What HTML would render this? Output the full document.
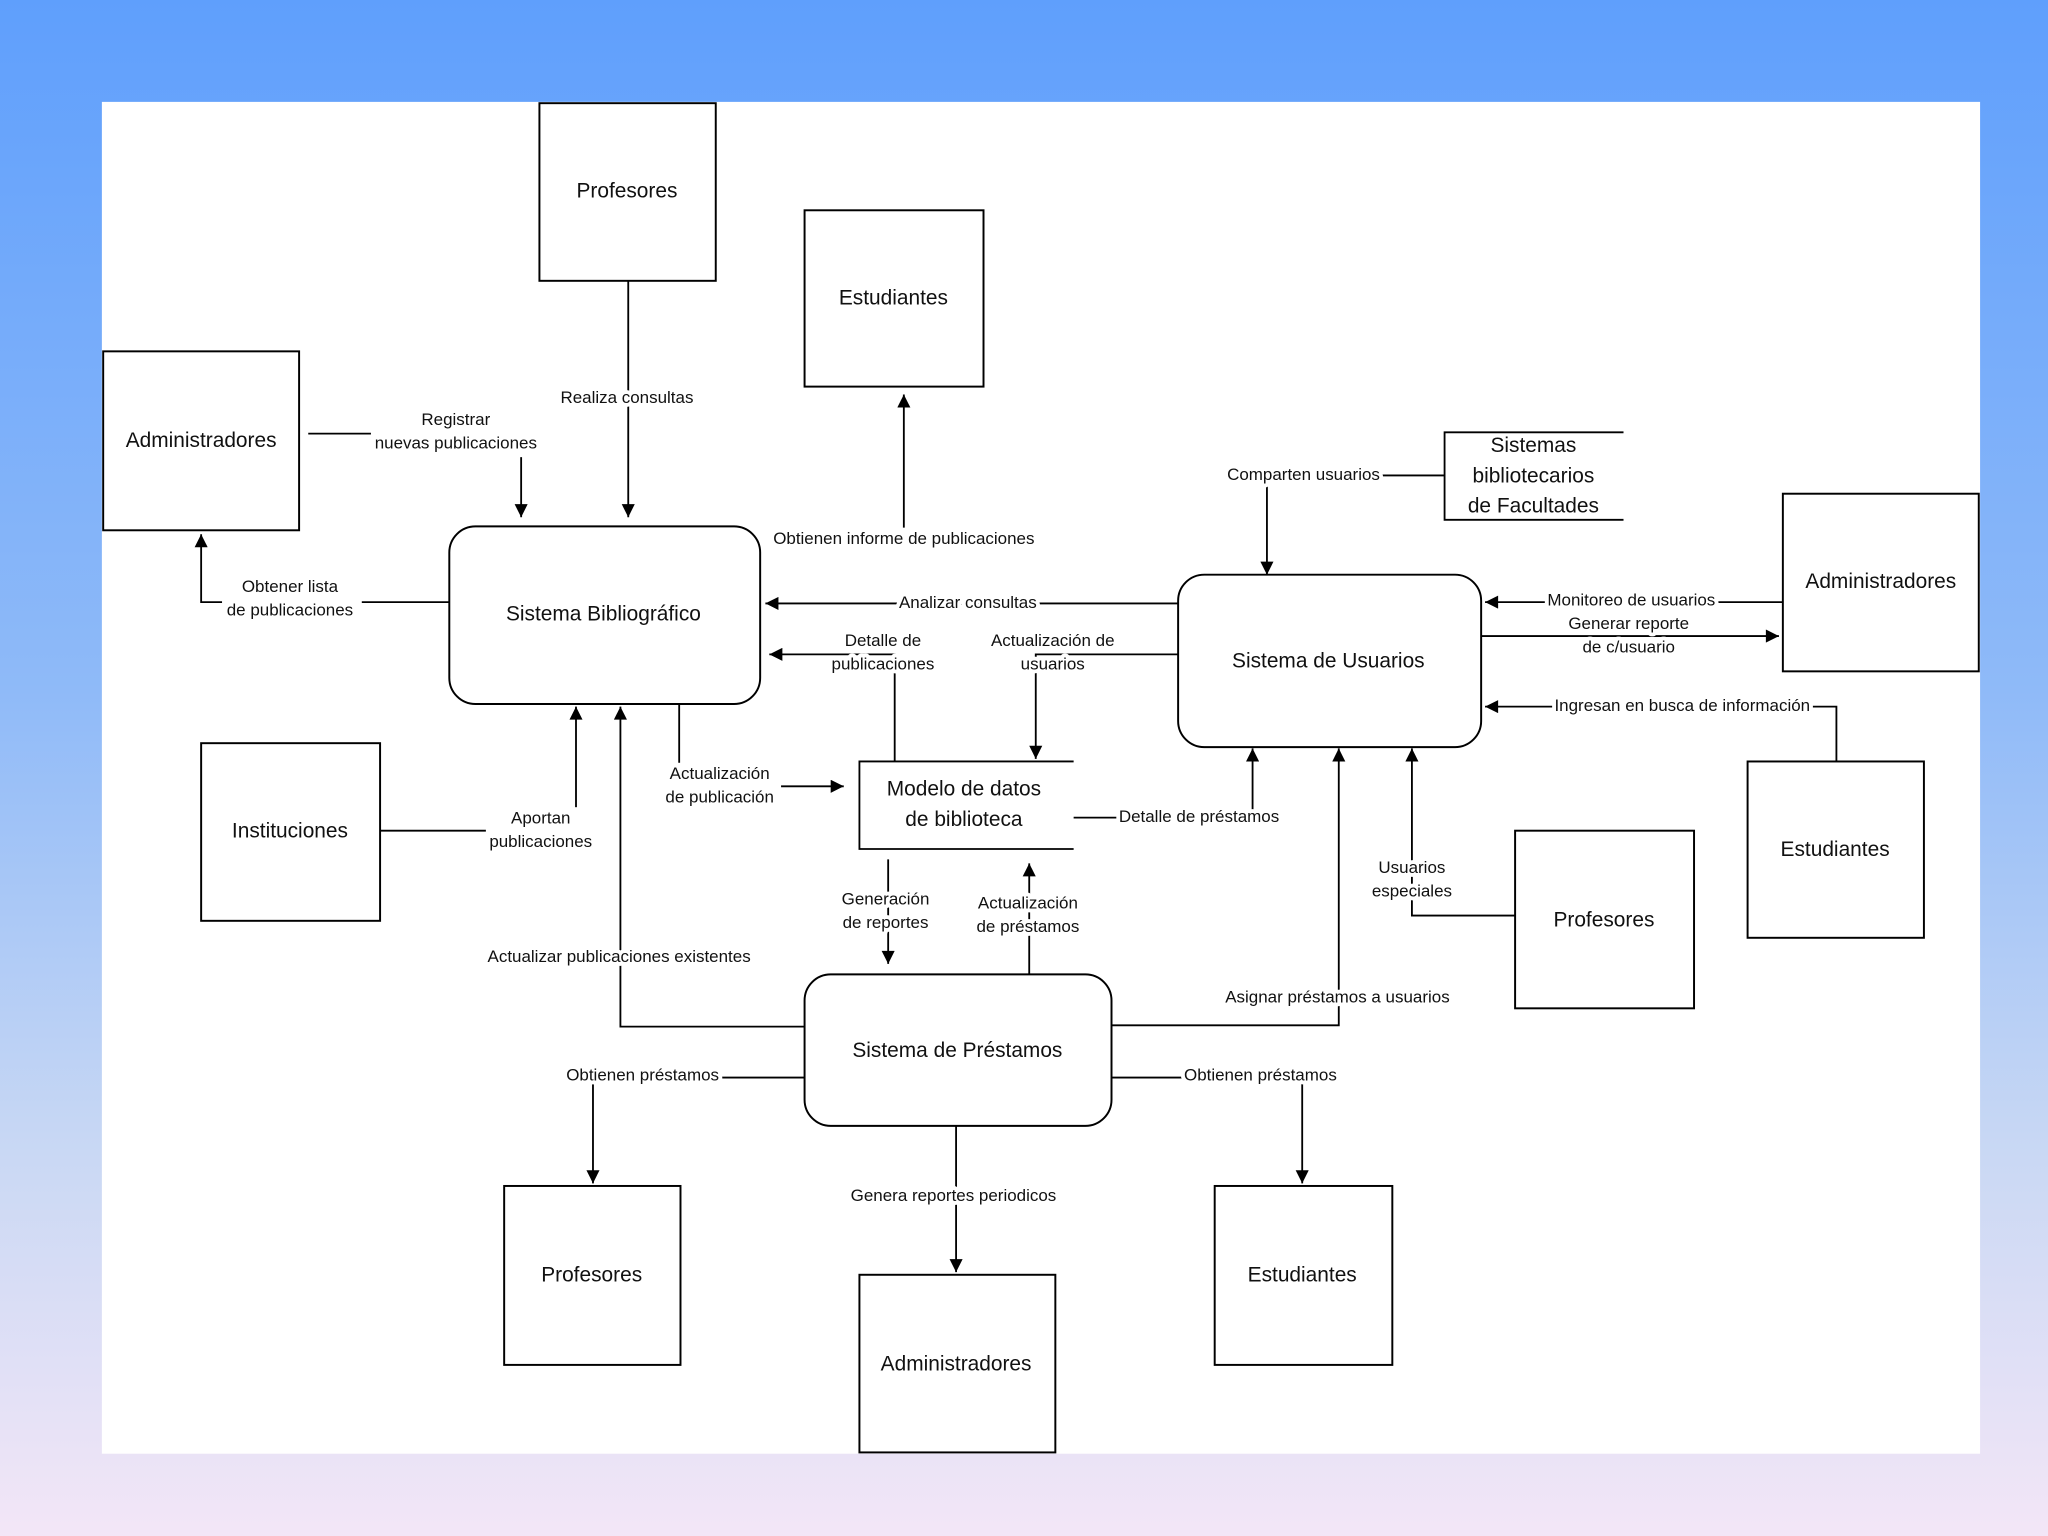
<!DOCTYPE html>
<html><head><meta charset="utf-8">
<style>
html,body{margin:0;padding:0;width:2048px;height:1536px;overflow:hidden;}
body{background:linear-gradient(to bottom,#5f9ffc 0%,#8fbaf8 45%,#c9d8f4 75%,#f3e6f7 100%);}
svg{display:block}
text{font-family:"Liberation Sans","DejaVu Sans",sans-serif;fill:#111;text-anchor:middle;dominant-baseline:middle}
.n{font-size:16px}
.l{font-size:13px;paint-order:stroke;stroke:#fff;stroke-width:6px;stroke-linejoin:round}
.b{fill:#fff;stroke:#000;stroke-width:1.5}
.c{fill:none;stroke:#000;stroke-width:1.4}
</style></head><body>
<svg width="2048" height="1536" viewBox="0 0 1568 1176" xmlns="http://www.w3.org/2000/svg">
<defs><marker id="a" viewBox="0 0 10 10" refX="10" refY="5" markerWidth="12" markerHeight="10" markerUnits="userSpaceOnUse" orient="auto"><path d="M0,0L10,5L0,10z" fill="#000"/></marker></defs>
<rect x="78" y="78" width="1438" height="1035" fill="#fff"/>

<g class="c">
<polyline points="236,332 284,332"/>
<polyline points="344,461 277,461"/>
<polyline points="520,539 520,584"/>
<polyline points="291,636 372,636"/>
</g>
<g class="c" marker-end="url(#a)">
<polyline points="481,215 481,396"/>
<polyline points="399,350 399,396"/>
<polyline points="170,461 154,461 154,409"/>
<polyline points="692,404 692,302"/>
<polyline points="902,462 586,462"/>
<polyline points="685,583 685,501 589,501"/>
<polyline points="902,501 793,501 793,581"/>
<polyline points="598,602 646,602"/>
<polyline points="441,618 441,541"/>
<polyline points="616,786 475,786 475,541"/>
<polyline points="1106,364 970,364 970,440"/>
<polyline points="1365,461 1137,461"/>
<polyline points="1134,487 1362,487"/>
<polyline points="1406,583 1406,541 1137,541"/>
<polyline points="822,626 959,626 959,573"/>
<polyline points="1160,701 1081,701 1081,573"/>
<polyline points="851,785 1025,785 1025,573"/>
<polyline points="680,658 680,738"/>
<polyline points="788,746 788,661"/>
<polyline points="616,825 454,825 454,906"/>
<polyline points="851,825 997,825 997,906"/>
<polyline points="732,862 732,974"/>
</g>

<rect class="b" x="413" y="79" width="135" height="136"/><text class="n" x="480" y="147">Profesores</text>
<rect class="b" x="616" y="161" width="137" height="135"/><text class="n" x="684" y="229">Estudiantes</text>
<rect class="b" x="79" y="269" width="150" height="137"/><text class="n" x="154" y="338">Administradores</text>
<rect class="b" x="344" y="403" width="238" height="136" rx="20"/><text class="n" x="462" y="471">Sistema Bibliográfico</text>
<g class="c"><polyline points="1243,331 1106,331 1106,398 1243,398"/></g>
<text class="n" x="1174" y="342">Sistemas</text><text class="n" x="1174" y="365">bibliotecarios</text><text class="n" x="1174" y="388">de Facultades</text>
<rect class="b" x="1365" y="378" width="150" height="136"/><text class="n" x="1440" y="446">Administradores</text>
<rect class="b" x="902" y="440" width="232" height="132" rx="20"/><text class="n" x="1017" y="507">Sistema de Usuarios</text>
<rect class="b" x="154" y="569" width="137" height="136"/><text class="n" x="222" y="637">Instituciones</text>
<g class="c"><polyline points="822,583 658,583 658,650 822,650"/></g>
<text class="n" x="738" y="605">Modelo de datos</text><text class="n" x="738" y="628">de biblioteca</text>
<rect class="b" x="1338" y="583" width="135" height="135"/><text class="n" x="1405" y="651">Estudiantes</text>
<rect class="b" x="1160" y="636" width="137" height="136"/><text class="n" x="1228" y="705">Profesores</text>
<rect class="b" x="616" y="746" width="235" height="116" rx="20"/><text class="n" x="733" y="805">Sistema de Préstamos</text>
<rect class="b" x="386" y="908" width="135" height="137"/><text class="n" x="453" y="977">Profesores</text>
<rect class="b" x="658" y="976" width="150" height="136"/><text class="n" x="732" y="1045">Administradores</text>
<rect class="b" x="930" y="908" width="136" height="137"/><text class="n" x="997" y="977">Estudiantes</text>

<g class="l">
<text x="480" y="305">Realiza consultas</text>
<text x="349" y="322">Registrar</text><text x="349" y="340">nuevas publicaciones</text>
<text x="222" y="450">Obtener lista</text><text x="222" y="468">de publicaciones</text>
<text x="692" y="413">Obtienen informe de publicaciones</text>
<text x="741" y="462">Analizar consultas</text>
<text x="676" y="491">Detalle de</text><text x="676" y="509">publicaciones</text>
<text x="806" y="491">Actualización de</text><text x="806" y="509">usuarios</text>
<text x="551" y="593">Actualización</text><text x="551" y="611">de publicación</text>
<text x="414" y="627">Aportan</text><text x="414" y="645">publicaciones</text>
<text x="474" y="733">Actualizar publicaciones existentes</text>
<text x="998" y="364">Comparten usuarios</text>
<text x="1249" y="460">Monitoreo de usuarios</text>
<text x="1247" y="478">Generar reporte</text><text x="1247" y="496">de c/usuario</text>
<text x="1288" y="541">Ingresan en busca de información</text>
<text x="918" y="626">Detalle de préstamos</text>
<text x="1081" y="665">Usuarios</text><text x="1081" y="683">especiales</text>
<text x="1024" y="764">Asignar préstamos a usuarios</text>
<text x="678" y="689">Generación</text><text x="678" y="707">de reportes</text>
<text x="787" y="692">Actualización</text><text x="787" y="710">de préstamos</text>
<text x="492" y="824">Obtienen préstamos</text>
<text x="965" y="824">Obtienen préstamos</text>
<text x="730" y="916">Genera reportes periodicos</text>
</g>
</svg>
</body></html>
